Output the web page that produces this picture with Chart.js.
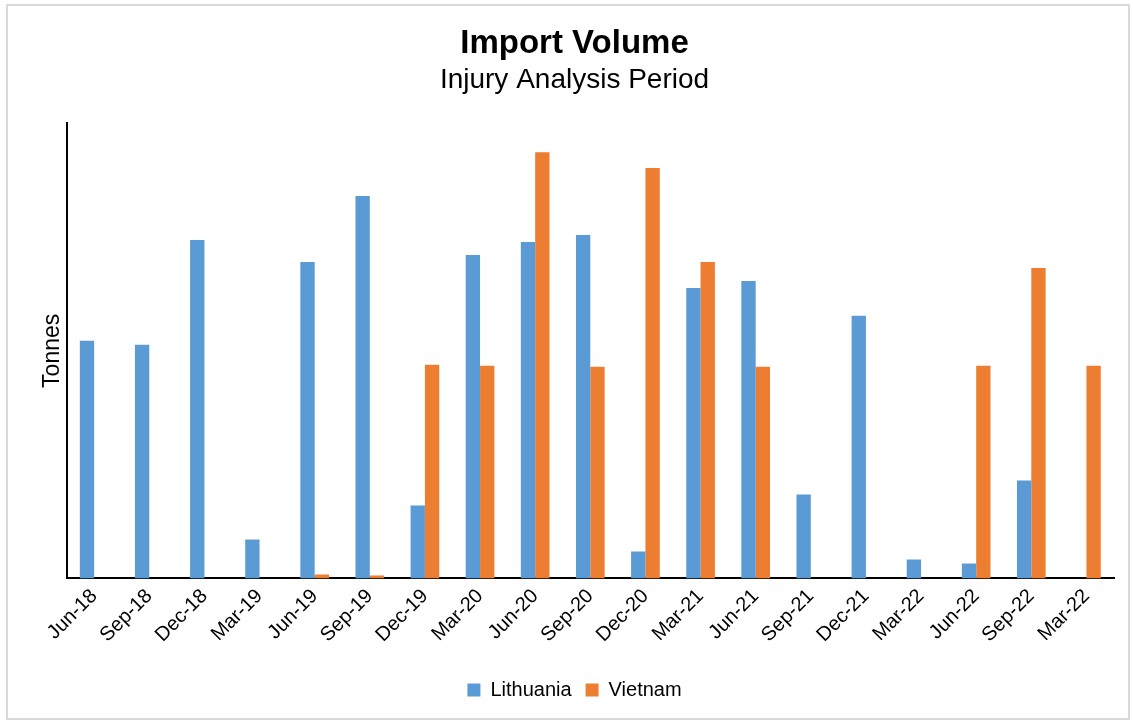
<!DOCTYPE html>
<html lang="en">
  <head>
    <meta charset="UTF-8" />
    <title>Import Volume</title>
    <script src="https://cdn.jsdelivr.net/npm/chart.js"></script>
    <style>
      body { margin: 0; background: #fff; }
      #box {
        position: absolute; left: 6px; top: 4px;
        width: 1124px; height: 716px;
        border: 2px solid #d9d9d9; box-sizing: border-box;
      }
      canvas { position: absolute; left: 0; top: 0; }
    </style>
  </head>
  <body>
    <div id="box"><canvas id="importChart" width="1120" height="712"></canvas></div>

    <script>
      // Quarter labels as shown on the axis
      const quarters = [
        "Jun-18", "Sep-18", "Dec-18", "Mar-19", "Jun-19", "Sep-19", "Dec-19",
        "Mar-20", "Jun-20", "Sep-20", "Dec-20", "Mar-21", "Jun-21", "Sep-21",
        "Dec-21", "Mar-22", "Jun-22", "Sep-22", "Mar-22",
      ];

      // Import volumes (no scale shown, read as relative heights)
      const lithuania = [238, 234, 339, 39, 317, 383, 73, 324, 337, 344, 27, 291, 298, 84, 263, 19, 15, 98, 0];
      const vietnam = [0, 0, 0, 0, 4, 3, 214, 213, 427, 212, 411, 317, 212, 0, 0, 0, 213, 311, 213];

      const font = "Arial, 'Liberation Sans', sans-serif";

      const ctx = document.getElementById("importChart").getContext("2d");
      new Chart(ctx, {
        type: "bar",
        data: {
          labels: quarters,
          datasets: [
            {
              label: "Lithuania",
              data: lithuania,
              backgroundColor: "#5B9BD5",
              categoryPercentage: 0.52,
              barPercentage: 1.0,
            },
            {
              label: "Vietnam",
              data: vietnam,
              backgroundColor: "#ED7D31",
              categoryPercentage: 0.52,
              barPercentage: 1.0,
            },
          ],
        },
        options: {
          responsive: false,
          animation: false,
          layout: { padding: { left: 27, right: 14, top: 0, bottom: 8 } },
          plugins: {
            title: {
              display: true,
              text: "Import Volume",
              color: "#000",
              font: { family: font, size: 33, weight: "bold" },
              padding: { top: 18, bottom: 0 },
            },
            subtitle: {
              display: true,
              text: "Injury Analysis Period",
              color: "#000",
              font: { family: font, size: 28 },
              padding: { bottom: 26 },
            },
            legend: {
              position: "bottom",
              labels: {
                color: "#000",
                font: { family: font, size: 20 },
                boxWidth: 13,
                boxHeight: 13,
                padding: 14,
              },
            },
            tooltip: { enabled: false },
          },
          scales: {
            x: {
              grid: { display: false, drawTicks: false },
              border: { color: "#000", width: 2 },
              ticks: {
                color: "#000",
                font: { family: font, size: 20 },
                maxRotation: 45,
                minRotation: 45,
                padding: 6,
                autoSkip: false,
              },
              // leave some room between the rotated labels and the legend
              afterFit: (scale) => {
                scale.height += 13;
              },
            },
            y: {
              min: 0,
              max: 456,
              grid: { display: false, drawTicks: false },
              border: { color: "#000", width: 2 },
              ticks: { display: false },
              title: {
                display: true,
                text: "Tonnes",
                color: "#000",
                font: { family: font, size: 23 },
                padding: { top: 4, bottom: 0 },
              },
            },
          },
        },
      });
    </script>
  </body>
</html>
